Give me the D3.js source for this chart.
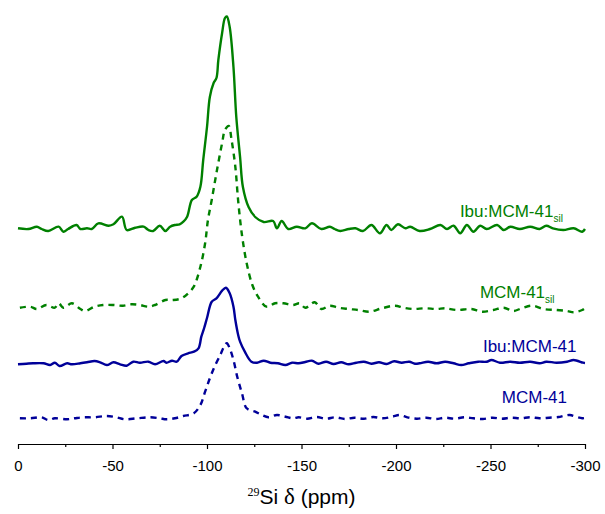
<!DOCTYPE html>
<html>
<head>
<meta charset="utf-8">
<script src="https://cdn.jsdelivr.net/npm/d3@7"></script>
<style>
body { margin: 0; background: #fff; }
svg { font-family: "Liberation Sans", Arial, sans-serif; }
</style>
</head>
<body>
<div id="chart"></div>
<script>
var chart_width = 605, chart_height = 514;

// spectra: [ppm, intensity above own baseline]
var ibu_sil = [
    [0, 0.7], [-5.5, 0], [-10, 2.3], [-12.5, 0], [-16, -2], [-21.5, 2.3], [-24, -2.7], [-26.5, 0],
    [-31, 4], [-33, 0], [-36.5, 0.7], [-39, 0], [-42.5, 5.7], [-48, 3.3], [-50.5, 4.7], [-55, 12.3],
    [-57.5, -1], [-62, 1.3], [-66.5, 2.3], [-69, -1], [-71.5, -2], [-75, 3.3], [-78, -2], [-80.5, 2.3],
    [-83, 4], [-85.5, 4.7], [-87.5, 7.3], [-89.5, 12.3], [-92, 29], [-94.5, 32.3], [-96.5, 42.3],
    [-98, 69], [-100, 102], [-101.5, 132], [-103.5, 146], [-105, 151], [-106, 169], [-108, 196],
    [-109.5, 211], [-110.5, 212.5], [-112, 202], [-114, 162], [-115.5, 112], [-117.5, 72], [-119, 42],
    [-122, 22], [-125.5, 12], [-130, 7], [-135, 8], [-137, 0.7], [-139.5, 8], [-143, 0], [-147.5, 2.3],
    [-152, 0.7], [-155.5, 5.7], [-160.5, 0], [-165, 2.3], [-167.5, 0], [-170.5, -2], [-175, 0],
    [-178.5, 0.7], [-182.5, -2], [-187, 4], [-191.5, -4.3], [-195, 4], [-197.5, -1], [-201, 4.7],
    [-205, 0.7], [-207.5, 2.3], [-212.5, -2], [-218, 0], [-223.5, 4], [-227, 0], [-230.5, 3.3],
    [-234, -4.3], [-237.5, 4], [-241, -2.7], [-244.5, 3.3], [-248, 0], [-253.5, 4], [-257, -1],
    [-260.5, 2.3], [-265.5, 0], [-271, 2.3], [-276, 0], [-279.5, 3.3], [-283, 0.7], [-288.5, -1],
    [-294, 0.7], [-298.5, -2.7], [-300, 0]
];
var mcm_sil = [
    [-1, -0.7], [-6.5, 0.3], [-10, -2], [-15, 2], [-19.5, -0.7], [-21.5, 3.7], [-24, -0.7], [-28.5, 3.7],
    [-33, -2], [-35.5, -4], [-40.5, 0.3], [-45, 2], [-50.5, 2], [-55.5, 1.3], [-60, 2.7], [-64.5, 2],
    [-69, 0.3], [-72.5, 2], [-78, 7], [-82, 7], [-86.5, 8.7], [-90, 13.7], [-93, 20.3], [-96.5, 40.3],
    [-99, 63.7], [-100.5, 87], [-102.5, 107], [-105, 134], [-108, 164], [-109.5, 177], [-111.5, 181],
    [-113, 167], [-115, 140], [-116.5, 106], [-118.5, 72], [-121, 43.7], [-124, 22], [-127, 10.3],
    [-131.5, 0.3], [-136, 3.7], [-140.5, 3.7], [-145.5, 2], [-149, 3.7], [-152, -0.7], [-157, 4.7],
    [-160.5, -2], [-165, 1.3], [-169.5, -0.7], [-175, -2], [-180, -3], [-186, -4.7], [-192.5, -1.3],
    [-199.5, 1.3], [-204, -0.7], [-209, -2], [-215.5, -1.3], [-221.5, -2], [-226, -1.3], [-232, -3],
    [-240, -2], [-245.5, -4.7], [-251.5, -3], [-257, -0.7], [-262, -4], [-266.5, -1.3], [-272, 1.3],
    [-278, -2], [-285, -3], [-290.5, -4], [-294, -5.3], [-298.5, -3], [-300, -1.3]
];
var ibu_mcm = [
    [0, -1.3], [-4.5, -0.7], [-8, -0.3], [-13.5, -0.3], [-17, -2], [-19.5, 0.3], [-22, -3], [-26, -0.3],
    [-28.5, -1.3], [-33, -0.3], [-36.5, 0.7], [-40.5, 2], [-43.5, 0.7], [-47, -2], [-50.5, 0.7],
    [-54, -1.3], [-57.5, -2.7], [-61, 1.3], [-64.5, 0.3], [-69, 1.3], [-72.5, -1.3], [-77, 2],
    [-78.5, 0.3], [-81.5, 2.3], [-84, 1.3], [-86.5, 7], [-90, 9.7], [-93, 11.3], [-95.5, 14.7],
    [-97, 26.3], [-98.5, 35], [-100, 45], [-102.5, 61.3], [-105, 64.7], [-108, 72.3], [-110, 75.3],
    [-112, 69.7], [-114, 56.3], [-115, 43], [-116.5, 28], [-117.5, 21.3], [-120, 11.3], [-123.5, 1.3],
    [-126.5, 0.3], [-130, 2.3], [-133.5, 0.3], [-137.5, -0.3], [-141.5, -2], [-145, 0.3], [-148.5, -0.3],
    [-152, 1], [-155.5, 2.3], [-159, -0.7], [-163, 1.3], [-167, -1], [-171, 0.7], [-175, -1.3],
    [-179, 0.3], [-183, 1.3], [-187, -0.7], [-191, 0.7], [-195, -1], [-199, 1.7], [-203, 0.3],
    [-207, 1.3], [-210, -0.7], [-212.5, -0.3], [-217, 1.3], [-221.5, -0.3], [-226, 1.3], [-230.5, -0.3],
    [-234.5, -2], [-238.5, -0.3], [-243.5, 1.3], [-248, 1.3], [-250.5, 3], [-255, 0.3], [-260.5, 1.3],
    [-265.5, 0.3], [-271, 1.3], [-276, -0.3], [-279.5, 1.3], [-285, 0.3], [-290.5, 1.3], [-294, 3],
    [-299, 0.3], [-300, 0]
];
var mcm = [
    [-1, -0.3], [-6.5, -0.3], [-12.5, 0.7], [-16, -2], [-19.5, -0.3], [-26, -1.3], [-30, -0.3],
    [-34.5, 0.7], [-40.5, 0.7], [-47, 2], [-52, 0.7], [-56.5, -1.3], [-63, -0.3], [-70, 0.7], [-75, -0.3],
    [-78.5, -1.3], [-83, -0.3], [-87.5, 2], [-93, 4.7], [-96.5, 13], [-99, 26.3], [-101.5, 39.7],
    [-104, 51.3], [-107, 63], [-109.5, 73], [-110.5, 74.7], [-112, 69.7], [-114, 58], [-116, 41.3],
    [-118.5, 24.7], [-121, 9.7], [-125.5, 6.3], [-129, 3], [-132.5, 0.7], [-137, 3], [-141.5, 1.3],
    [-145.5, -0.3], [-148.5, 0.7], [-153, -0.7], [-158, 1], [-163, -0.7], [-168, 0.7], [-173, -1],
    [-178, 0.3], [-183, -0.7], [-188, 1], [-193, -0.3], [-198, 1.3], [-202, 3], [-206, 0.7],
    [-211, -0.7], [-216, 0.3], [-221, -1], [-226, 0.3], [-231, -0.7], [-236, 0.7], [-241, -0.3],
    [-246, -1], [-251, 0.3], [-256, -0.7], [-261, 0.3], [-266, -0.3], [-271, 0.7], [-276, -0.3],
    [-281, 0.3], [-286, 1], [-289, 2.3], [-292, 3], [-295, 1.3], [-298.5, -0.3], [-300, 0]
];

var spectra = [ibu_sil, mcm_sil, ibu_mcm, mcm];
var names = ["Ibu:MCM-41", "MCM-41", "Ibu:MCM-41", "MCM-41"];
var subs = ["sil", "sil", "", ""];
// vertical stacking offsets
var offsets = [215, 137, 81, 26];

var major_ticks = [0, -50, -100, -150, -200, -250, -300];
var minor_ticks = [-25, -75, -125, -175, -225, -275];

// look of each trace
var colors = ["#008000", "#008000", "#000099", "#000099"];
var dashes = [null, "6,5", null, "6,5"];
// label anchors in data units [ppm, height]
var label_at = [[-233.8, 227.3], [-244.4, 145.7], [-246, 92.3], [-256, 40.7]];

var svg = d3.select("#chart").append("svg")
    .attr("width", chart_width)
    .attr("height", chart_height);

var x = d3.scaleLinear().domain([0, -300]).range([18, 585]);
var y = d3.scaleLinear().domain([0, 440]).range([444, 4]);

var line = d3.line()
    .x(function (d) { return x(d[0]); })
    .y(function (d) { return y(d[1]); })
    .curve(d3.curveCatmullRom.alpha(0.5));

spectra.forEach(function (s, i) {
    svg.append("path")
       .datum(s.map(function (d) { return [d[0], d[1] + offsets[i]]; }))
       .attr("d", line)
       .attr("fill", "none")
       .attr("stroke", colors[i])
       .attr("stroke-width", 2.4)
       .attr("stroke-linejoin", "round")
       .attr("stroke-dasharray", dashes[i]);

    var t = svg.append("text")
       .attr("x", x(label_at[i][0]))
       .attr("y", y(label_at[i][1]))
       .attr("fill", colors[i])
       .style("font-size", "17px")
       .text(names[i]);
    if (subs[i]) {
        t.append("tspan")
         .attr("dy", 5)
         .style("font-size", "10px")
         .text(subs[i]);
    }
});

// x axis, major + minor ticks
var axis_g = svg.append("g").attr("transform", "translate(0," + y(0) + ")");
axis_g.call(d3.axisBottom(x)
            .tickValues(major_ticks)
            .tickSize(5)
            .tickSizeOuter(0)
            .tickPadding(11)
            .tickFormat(function (d) { return String(d); }));
axis_g.selectAll("text").style("font-size", "15px").attr("fill", "#000");
axis_g.selectAll("path, line").attr("stroke", "#000").attr("stroke-width", 1.2);

var minor_g = svg.append("g").attr("transform", "translate(0," + y(0) + ")");
minor_g.call(d3.axisBottom(x).tickValues(minor_ticks).tickSize(3).tickFormat(""));
minor_g.select(".domain").remove();
minor_g.selectAll("line").attr("stroke", "#000").attr("stroke-width", 1.2);

// axis title
var title = svg.append("text")
    .attr("x", (x(0) + x(-300)) / 2)
    .attr("y", 504)
    .attr("text-anchor", "middle")
    .style("font-size", "21px");
title.append("tspan")
     .attr("dy", -8)
     .style("font-family", "'Liberation Serif', serif")
     .style("font-size", "12px")
     .text("29");
title.append("tspan").attr("dy", 8).text("Si ");
title.append("tspan")
     .style("font-family", "'Liberation Serif', serif")
     .style("font-size", "23px")
     .text("δ");
title.append("tspan").text(" (ppm)");
</script>
</body>
</html>
